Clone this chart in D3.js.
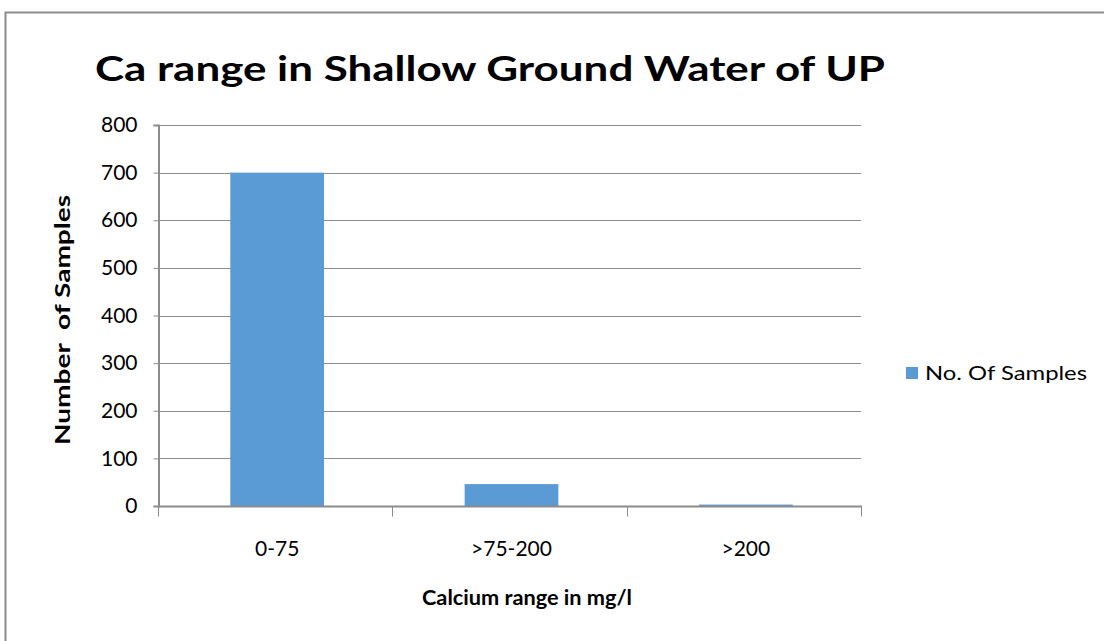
<!DOCTYPE html>
<meta charset="utf-8">
<title>Ca range in Shallow Ground Water of UP</title>
<style>
body { margin: 0; background: #fff; }
svg { display: block; font-family: Lato, "Open Sans", sans-serif; }
</style>
<body>
<script src="https://cdn.jsdelivr.net/npm/d3@7"></script>
<script>
// data
var categories = ["0-75", ">75-200", ">200"];
var samples = [700, 46, 3];
var yTicks = [0, 100, 200, 300, 400, 500, 600, 700, 800];
var seriesName = "No. Of Samples";

var width = 1104, height = 641;
var plotLeft = 158, plotRight = 861, plotTop = 125, plotBottom = 506;

var svg = d3.select("body").append("svg")
    .attr("width", width)
    .attr("height", height);

// chart frame
svg.append("rect")
    .attr("x", 5.5).attr("y", 12.5)
    .attr("width", 1120).attr("height", 660)
    .attr("fill", "none")
    .attr("stroke", "#8c8c8c")
    .attr("stroke-width", 2);

svg.append("text")
    .attr("x", 95).attr("y", 81)
    .attr("font-size", 35)
    .attr("font-weight", "bold")
    .attr("textLength", 790)
    .attr("lengthAdjust", "spacingAndGlyphs")
    .text("Ca range in Shallow Ground Water of UP");

var x = d3.scaleBand().domain(categories).range([plotLeft + 2, plotRight + 2]).paddingInner(0.6).paddingOuter(0.3);
var y = d3.scaleLinear().domain([0, 800]).range([plotBottom, plotTop]);

// gridlines
svg.append("g").selectAll("line")
    .data(yTicks.slice(1))
  .enter().append("line")
    .attr("x1", plotLeft).attr("x2", plotRight)
    .attr("y1", d => Math.round(y(d)) + 0.5).attr("y2", d => Math.round(y(d)) + 0.5)
    .attr("stroke", "#8c8c8c");

svg.selectAll("rect.bar")
    .data(samples)
  .enter().append("rect")
    .attr("class", "bar")
    .attr("x", (d, i) => x(categories[i]))
    .attr("width", x.bandwidth())
    .attr("y", d => y(d))
    .attr("height", d => plotBottom - y(d))
    .attr("fill", "#5b9bd5");

// y axis
var yAxis = svg.append("g")
    .attr("transform", "translate(" + (plotLeft + 0.5) + ",0)")
    .call(d3.axisLeft(y).tickValues(yTicks).tickSize(5).tickPadding(16));
yAxis.selectAll("text").attr("font-size", 21).attr("font-family", "Lato, sans-serif").attr("fill", "#000");
yAxis.select(".domain").attr("stroke", "#8c8c8c").attr("stroke-width", 2);
yAxis.selectAll(".tick line").attr("stroke", "#8c8c8c");

// x axis
var xEdges = d3.range(categories.length + 1).map(i => plotLeft + i * (plotRight - plotLeft) / categories.length);
var xAxis = svg.append("g").attr("transform", "translate(0," + (plotBottom + 0.5) + ")");
xAxis.append("line").attr("x1", plotLeft).attr("x2", plotRight + 1).attr("stroke", "#8c8c8c").attr("stroke-width", 2);
xAxis.selectAll("line.tk")
    .data(xEdges)
  .enter().append("line")
    .attr("class", "tk")
    .attr("x1", d => Math.round(d) + 0.5).attr("x2", d => Math.round(d) + 0.5)
    .attr("y1", 0).attr("y2", 10)
    .attr("stroke", "#8c8c8c");
xAxis.selectAll("text")
    .data(categories)
  .enter().append("text")
    .attr("x", d => x(d) + x.bandwidth() / 2)
    .attr("y", 49.5)
    .attr("text-anchor", "middle")
    .attr("font-size", 21)
    .text(d => d);

svg.append("text")
    .attr("transform", "translate(70,320) rotate(-90)")
    .attr("text-anchor", "middle")
    .attr("font-size", 21)
    .attr("font-weight", "bold")
    .attr("textLength", 250)
    .attr("lengthAdjust", "spacingAndGlyphs")
    .style("white-space", "pre")
    .text("Number  of Samples");

svg.append("text")
    .attr("x", 527).attr("y", 605)
    .attr("text-anchor", "middle")
    .attr("font-size", 21)
    .attr("font-weight", "bold")
    .attr("textLength", 210)
    .attr("lengthAdjust", "spacingAndGlyphs")
    .text("Calcium range in mg/l");

// legend
svg.append("rect")
    .attr("x", 906).attr("y", 367)
    .attr("width", 12).attr("height", 12)
    .attr("fill", "#5b9bd5");
svg.append("text")
    .attr("x", 925).attr("y", 380)
    .attr("font-size", 20)
    .attr("textLength", 162)
    .attr("lengthAdjust", "spacingAndGlyphs")
    .text(seriesName);
</script>
</body>
